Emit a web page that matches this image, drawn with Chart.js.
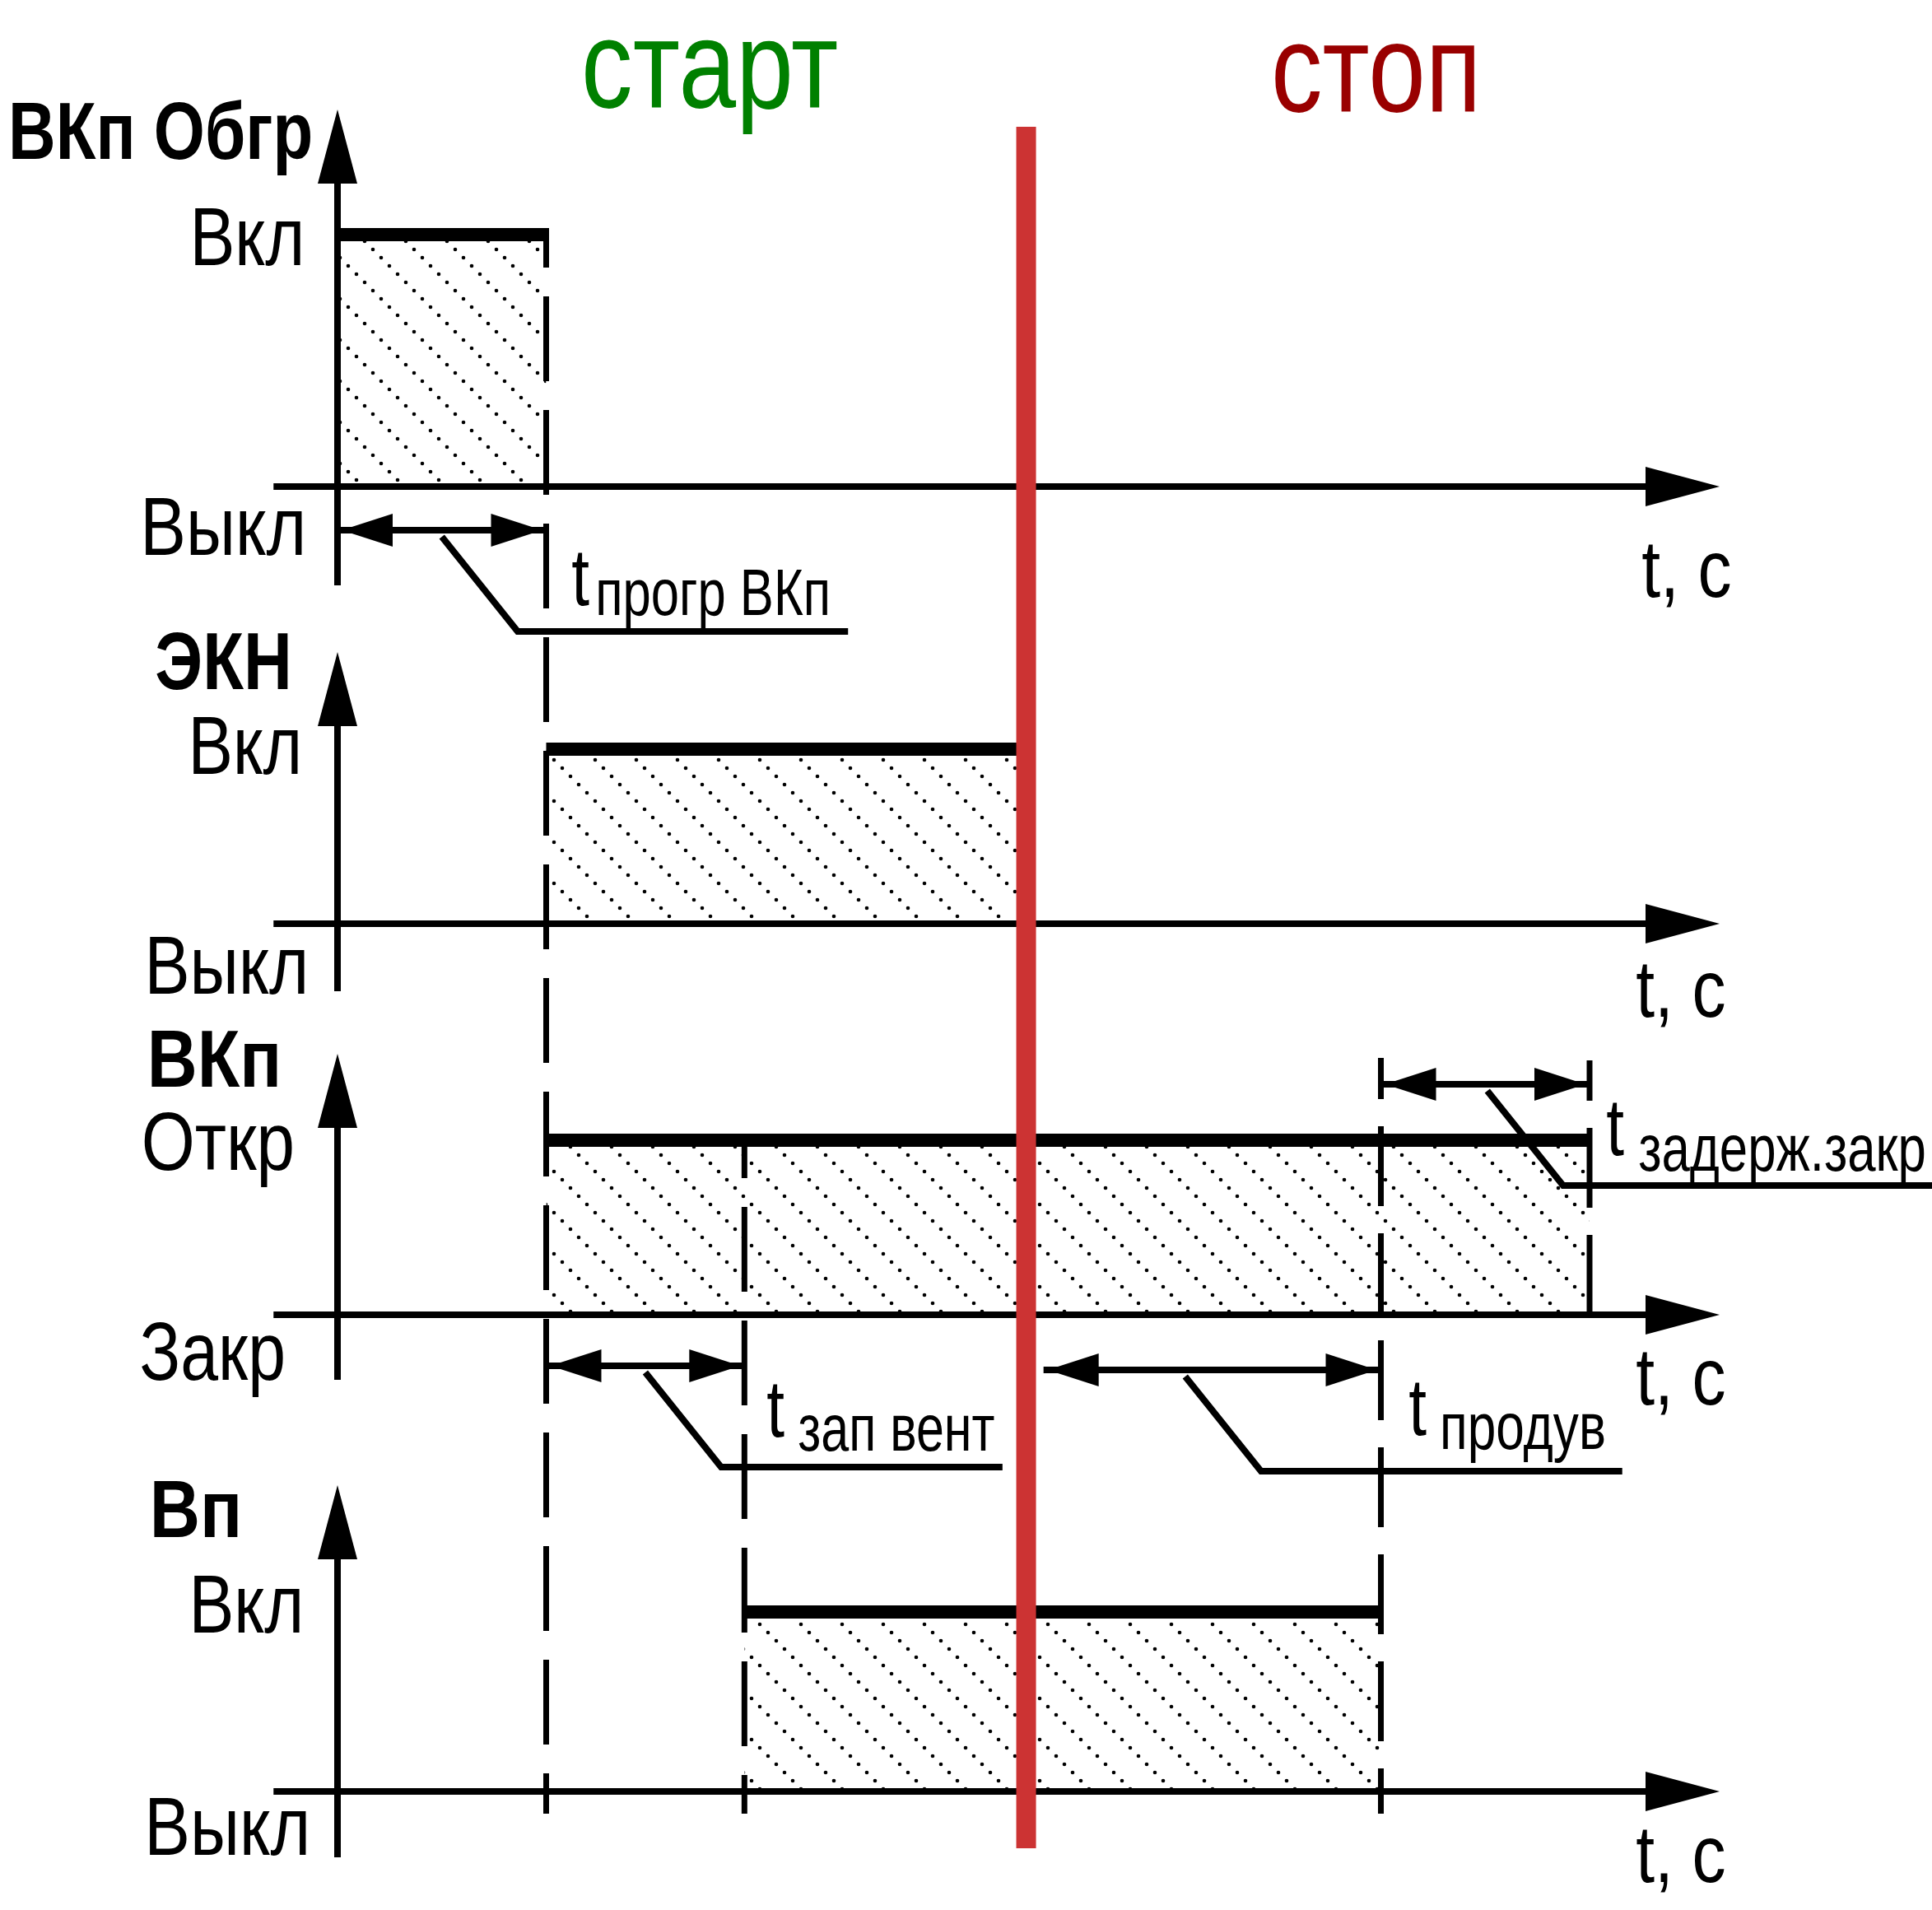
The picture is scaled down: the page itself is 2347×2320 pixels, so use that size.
<!DOCTYPE html>
<html>
<head>
<meta charset="utf-8">
<title>ВКп Обгр / ЭКН / ВКп / Вп</title>
<script src="https://cdn.jsdelivr.net/npm/chart.js@4.4.1/dist/chart.umd.min.js"></script>
<style>
  html, body { margin: 0; padding: 0; background: #fff; }
  #wrap { width: 2347px; height: 2320px; }
</style>
</head>
<body>
<div id="wrap"><canvas id="myChart" width="2347" height="2320"></canvas></div>
<script>
// -------------------- Data -------------------- //

var signalNames = ["ВКп Обгр", "ЭКН", "ВКп", "Вп"];
var onLabels    = ["Вкл", "Вкл", "Откр", "Вкл"];
var offLabels   = ["Выкл", "Выкл", "Закр", "Выкл"];
var onTimes     = [0, 3.0, 3.0, 5.85];     // t where each signal goes high
var offTimes    = [3.0, 9.9, 18.0, 15.0];  // t where it drops again

var eventNames = ["старт", "стоп"];
var stopTime   = 9.9;

var intervalNames = ["прогр ВКп", "зап вент", "продув", "задерж.закр"];
var intervalFrom  = [0, 3.0, 10.15, 15.0];
var intervalTo    = [3.0, 5.85, 15.0, 18.0];

var markTimes = [3.0, 5.85, 15.0, 18.0];   // dashed guide lines
var axisLabel = "t, с";

// -------------------- Layout (pixels / styles) -------------------- //

var W = 2347, H = 2320;
var originX = 410, pxPerT = 84.5;
var xMin = -originX / pxPerT;
var xMax = (W - originX) / pxPerT;

var baseY       = [591, 1122, 1597, 2176];   // "off" level of each panel
var highY       = [285, 910, 1385, 1958];    // "on" level
var arrowTopY   = [133, 792, 1280, 1804];
var axisBottomY = [711, 1204, 1676, 2256];
var axisFromT = -0.92, axisToT = 19.87;

var stopTop = 154, stopBottom = 2245;

var guideTop    = [277, 1385, 1285, 1288];
var guideBottom = [2203, 2203, 2203, 1612];
var guideDash   = [[103, 35], [103, 35], [97, 33], [97, 33]];
var guideOffset = [55, 57, 47, 48];

var dimY       = [644, 1659, 1664, 1317];
var leaderFrac = [0.5, 0.5, 0.42, 0.51];
var leaderEnd  = [7.34, 9.56, 18.47, 22.93];
var leaderDrop = 115, leaderRun = 1.09;

var narrow = 0.8;
var fontFam = '"Liberation Sans", Arial, sans-serif';

// text: s, x (ink left, or ink right when align right), baseline y, size, bold, colour, align, ink width
var textItems = [
  {s: eventNames[0], x: 711, y: 131, size: 152, bold: false, color: "#008000", align: "left", w: 306},
  {s: eventNames[1], x: 1549, y: 136, size: 152, bold: false, color: "#990000", align: "left", w: 242}
];
var nameX = [15, 190, 184, 187], nameY = [193, 837, 1320, 1867], nameW = [362, 160, 153, 102];
var onRight = [365, 362, 355, 364], onY = [322, 940, 1421, 1983], onW = [128, 127, 180, 128];
var offRight = [367, 370, 344, 372], offY = [674, 1207, 1676, 2253], offW = [190, 188, 172, 190];
var unitX = [1995, 1988, 1988, 1988], unitY = [725, 1235, 1706, 2286];
var tX = [695, 932, 1712, 1952], tY = [735, 1745, 1743, 1403];
var subX = [727, 970, 1753, 1991], subY = [747, 1762, 1760, 1422], subW = [278, 238, 196, 347];

for (var i = 0; i < signalNames.length; i++) {
  textItems.push({s: signalNames[i], x: nameX[i], y: nameY[i], size: 98, bold: true, color: "#000", align: "left", w: nameW[i]});
  textItems.push({s: onLabels[i], x: onRight[i], y: onY[i], size: 100, bold: false, color: "#000", align: "right", w: onW[i]});
  textItems.push({s: offLabels[i], x: offRight[i], y: offY[i], size: 100, bold: false, color: "#000", align: "right", w: offW[i]});
  textItems.push({s: axisLabel, x: unitX[i], y: unitY[i], size: 98, bold: false, color: "#000", align: "left", w: 107});
}
for (var k = 0; k < intervalNames.length; k++) {
  textItems.push({s: "t", x: tX[k], y: tY[k], size: 98, bold: false, color: "#000", align: "left", w: 0});
  textItems.push({s: intervalNames[k], x: subX[k], y: subY[k], size: 80, bold: false, color: "#000", align: "left", w: subW[k]});
}

// -------------------- Helpers -------------------- //

var canvas = document.getElementById('myChart');
var ctx = canvas.getContext('2d');

function makeHatch() {       // dotted diagonal hatching tile
  var c = document.createElement('canvas');
  c.width = 50; c.height = 50;
  var g = c.getContext('2d');
  g.fillStyle = '#000';
  for (var i = 0; i < 5; i++) {
    g.beginPath();
    g.arc(i * 10 + 3, i * 10 + 3, 2.3, 0, Math.PI * 2);
    g.fill();
  }
  return ctx.createPattern(c, 'repeat');
}
var hatch = makeHatch();

function seg(points, opts) {
  return Object.assign({
    data: points,
    borderColor: '#000',
    borderWidth: 8,
    pointRadius: 0,
    fill: false,
    tension: 0,
    borderCapStyle: 'butt',
    borderJoinStyle: 'miter'
  }, opts || {});
}

function arrowHead(c, x, y, dx, dy, len, half) {
  var bx = x - dx * len, by = y - dy * len;
  c.beginPath();
  c.moveTo(x, y);
  c.lineTo(bx - dy * half, by + dx * half);
  c.lineTo(bx + dy * half, by - dx * half);
  c.closePath();
  c.fill();
}

function drawText(c, t) {
  c.save();
  c.font = (t.bold ? 'bold ' : '') + t.size + 'px ' + fontFam;
  c.textAlign = 'left';
  c.textBaseline = 'alphabetic';
  var m = c.measureText(t.s);
  var ink = m.actualBoundingBoxLeft + m.actualBoundingBoxRight;
  var sx = t.w ? t.w / ink : narrow;
  var ox = t.align === 'right' ? t.x - m.actualBoundingBoxRight * sx : t.x + m.actualBoundingBoxLeft * sx;
  c.translate(ox, t.y);
  c.scale(sx, 1);
  c.fillStyle = t.color;
  c.fillText(t.s, 0, 0);
  c.restore();
}

// -------------------- Datasets -------------------- //

var chartDatasets = [];

// stop line, first so it sits on top
chartDatasets.push(seg([{x: stopTime, y: stopTop}, {x: stopTime, y: stopBottom}],
  {borderColor: '#cc3333', borderWidth: 24}));

for (var i = 0; i < signalNames.length; i++) {     // hatched pulses
  chartDatasets.push(seg([{x: onTimes[i], y: highY[i]}, {x: offTimes[i], y: highY[i]}],
    {borderWidth: 16, fill: {value: baseY[i]}, backgroundColor: hatch}));
}

for (var i = 0; i < signalNames.length; i++) {     // axes
  chartDatasets.push(seg([{x: axisFromT, y: baseY[i]}, {x: axisToT - 0.5, y: baseY[i]}]));
  chartDatasets.push(seg([{x: 0, y: arrowTopY[i] + 70}, {x: 0, y: axisBottomY[i]}]));
}

for (var k = 0; k < markTimes.length; k++) {       // dashed guides
  chartDatasets.push(seg([{x: markTimes[k], y: guideTop[k]}, {x: markTimes[k], y: guideBottom[k]}],
    {borderWidth: 7, borderDash: guideDash[k], borderDashOffset: guideOffset[k]}));
}

for (var k = 0; k < intervalNames.length; k++) {   // dimension lines + leaders
  chartDatasets.push(seg([{x: intervalFrom[k], y: dimY[k]}, {x: intervalTo[k], y: dimY[k]}]));
  var lx = intervalFrom[k] + leaderFrac[k] * (intervalTo[k] - intervalFrom[k]);
  chartDatasets.push(seg([
    {x: lx, y: dimY[k] + 8},
    {x: lx + leaderRun, y: dimY[k] + 8 + leaderDrop},
    {x: leaderEnd[k], y: dimY[k] + 8 + leaderDrop}
  ]));
}

// -------------------- Arrows and text -------------------- //

var diagramExtras = {
  id: 'diagramExtras',
  afterDatasetsDraw: function (chart) {
    var c = chart.ctx, xs = chart.scales.x, ys = chart.scales.y;
    c.save();
    c.fillStyle = '#000';
    for (var i = 0; i < signalNames.length; i++) {
      arrowHead(c, xs.getPixelForValue(0), ys.getPixelForValue(arrowTopY[i]), 0, -1, 90, 24);
      arrowHead(c, xs.getPixelForValue(axisToT), ys.getPixelForValue(baseY[i]), 1, 0, 90, 24);
    }
    for (var k = 0; k < intervalNames.length; k++) {
      var y = ys.getPixelForValue(dimY[k]);
      arrowHead(c, xs.getPixelForValue(intervalFrom[k]) + 5, y, -1, 0, 62, 20);
      arrowHead(c, xs.getPixelForValue(intervalTo[k]) - 5, y, 1, 0, 62, 20);
    }
    c.restore();
    for (var j = 0; j < textItems.length; j++) drawText(c, textItems[j]);
  }
};

var chart = new Chart(ctx, {
  type: 'line',
  data: { datasets: chartDatasets },
  options: {
    responsive: false,
    animation: false,
    devicePixelRatio: 1,
    events: [],
    layout: { padding: 0, autoPadding: false },
    scales: {
      x: { type: 'linear', min: xMin, max: xMax, display: false, bounds: 'data' },
      y: { type: 'linear', min: 0, max: H, reverse: true, display: false, bounds: 'data' }
    },
    plugins: { legend: { display: false }, tooltip: { enabled: false } }
  },
  plugins: [diagramExtras]
});
</script>
</body>
</html>
